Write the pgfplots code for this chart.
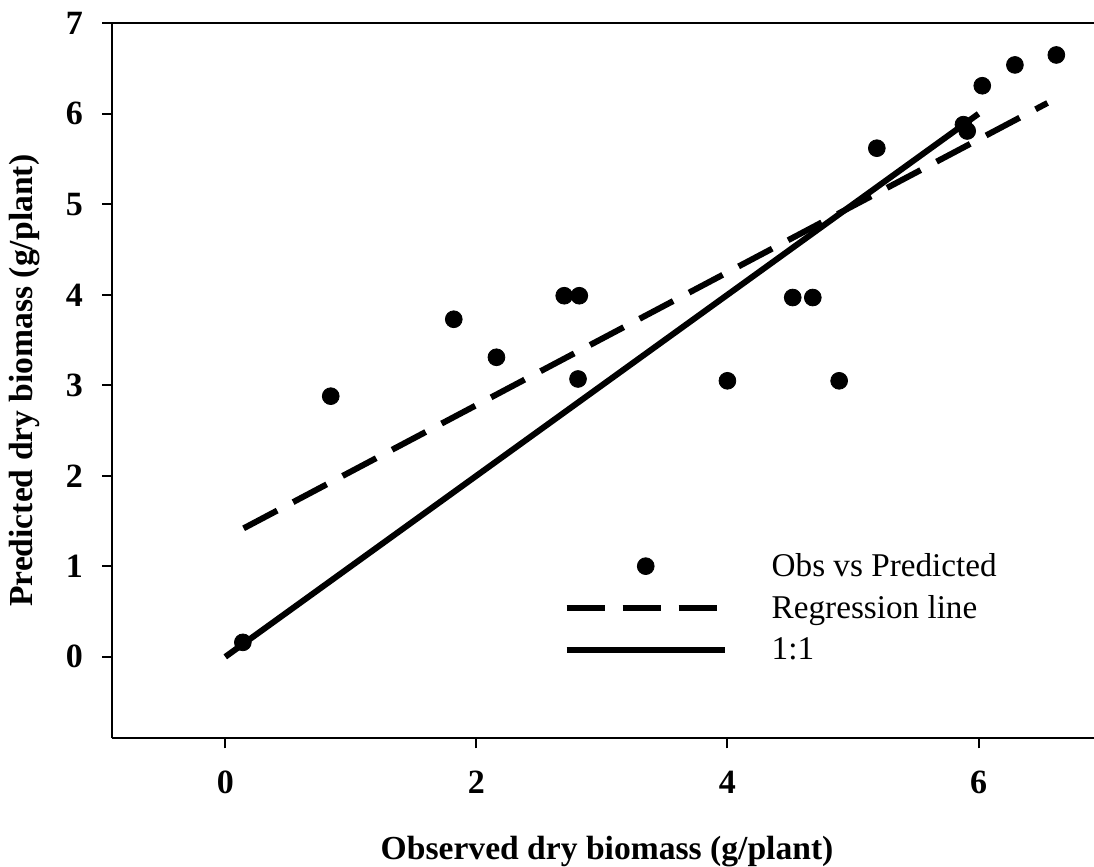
\documentclass[border=0pt]{standalone}
\usepackage{fontspec}
\setmainfont{Liberation Serif}
\usepackage{pgfplots}
\pgfplotsset{compat=1.18}

\pgfplotstableread{
x y
0.14 0.16
0.84 2.88
1.82 3.73
2.16 3.31
2.70 3.99
2.82 3.99
2.81 3.07
4.00 3.05
4.52 3.97
4.68 3.97
4.89 3.05
5.19 5.62
5.88 5.88
5.91 5.81
6.03 6.31
6.29 6.54
6.62 6.65
}\obs

\pgfplotsset{
  legmark/.style={legend image code/.code={\draw[mark repeat=2,mark phase=2,##1] plot coordinates {(0pt,0pt)(39.5pt,0pt)(79pt,0pt)};}},
  legline/.style={legend image code/.code={\draw[##1] (0pt,0pt) -- (79pt,0pt);}},
}

\begin{document}
\begin{tikzpicture}
\begin{axis}[
  scale only axis,
  width=490.85pt, height=357.5pt,
  xmin=-0.9, xmax=6.92, ymin=-0.9, ymax=7,
  axis x line*=bottom, axis y line*=left,
  axis line style={line width=1pt, -},
  xtick={0,2,4,6}, ytick={0,1,2,3,4,5,6,7},
  tick align=outside, major tick length=5pt,
  tick style={line width=1pt, black},
  /pgf/number format/assume math mode=true,
  tick label style={font=\fontsize{17}{20}\selectfont\bfseries, inner sep=0pt},
  xticklabel style={anchor=north, yshift=-11pt},
  yticklabel style={anchor=east, xshift=-9.5pt},
  xlabel={Observed dry biomass (g/plant)},
  ylabel={Predicted dry biomass (g/plant)},
  every axis x label/.style={at={(axis description cs:0.504,-0.1702)}, anchor=base,
     font=\fontsize{16.8}{20}\selectfont\bfseries},
  every axis y label/.style={at={(axis description cs:-0.0889,0.5)}, rotate=90, anchor=center,
     font=\fontsize{16.8}{20}\selectfont\bfseries},
  clip=false,
  legend style={draw=none, fill=none, inner sep=0pt, outer sep=0pt,
    at={(axis cs:2.696,1.19)}, anchor=north west,
    font=\fontsize{16.6}{20}\selectfont,
    row sep=4pt, column sep=20pt},
  legend cell align=left,
]
\addplot[only marks, mark=*, mark size=4.2pt, black, legmark]
  table[x=x,y=y]{\obs};
\addlegendentry{Obs vs Predicted}
\addplot[black, line width=3pt, dash pattern=on 19pt off 9pt, legline]
  coordinates {(0.146,1.42) (6.55,6.12)};
\addlegendentry{Regression line}
\addplot[black, line width=3pt, legline]
  coordinates {(0,0) (6,6)};
\addlegendentry{1:1}
\draw[line width=1pt] (rel axis cs:0,1) -- (rel axis cs:1,1);
\end{axis}
\pgfresetboundingbox
\path (current axis.south west) ++(-56.15pt,-64.35pt) coordinate (bbA);
\path (current axis.north east) ++(0pt,11.65pt) coordinate (bbB);
\useasboundingbox (bbA) rectangle (bbB);
\end{tikzpicture}
\end{document}
